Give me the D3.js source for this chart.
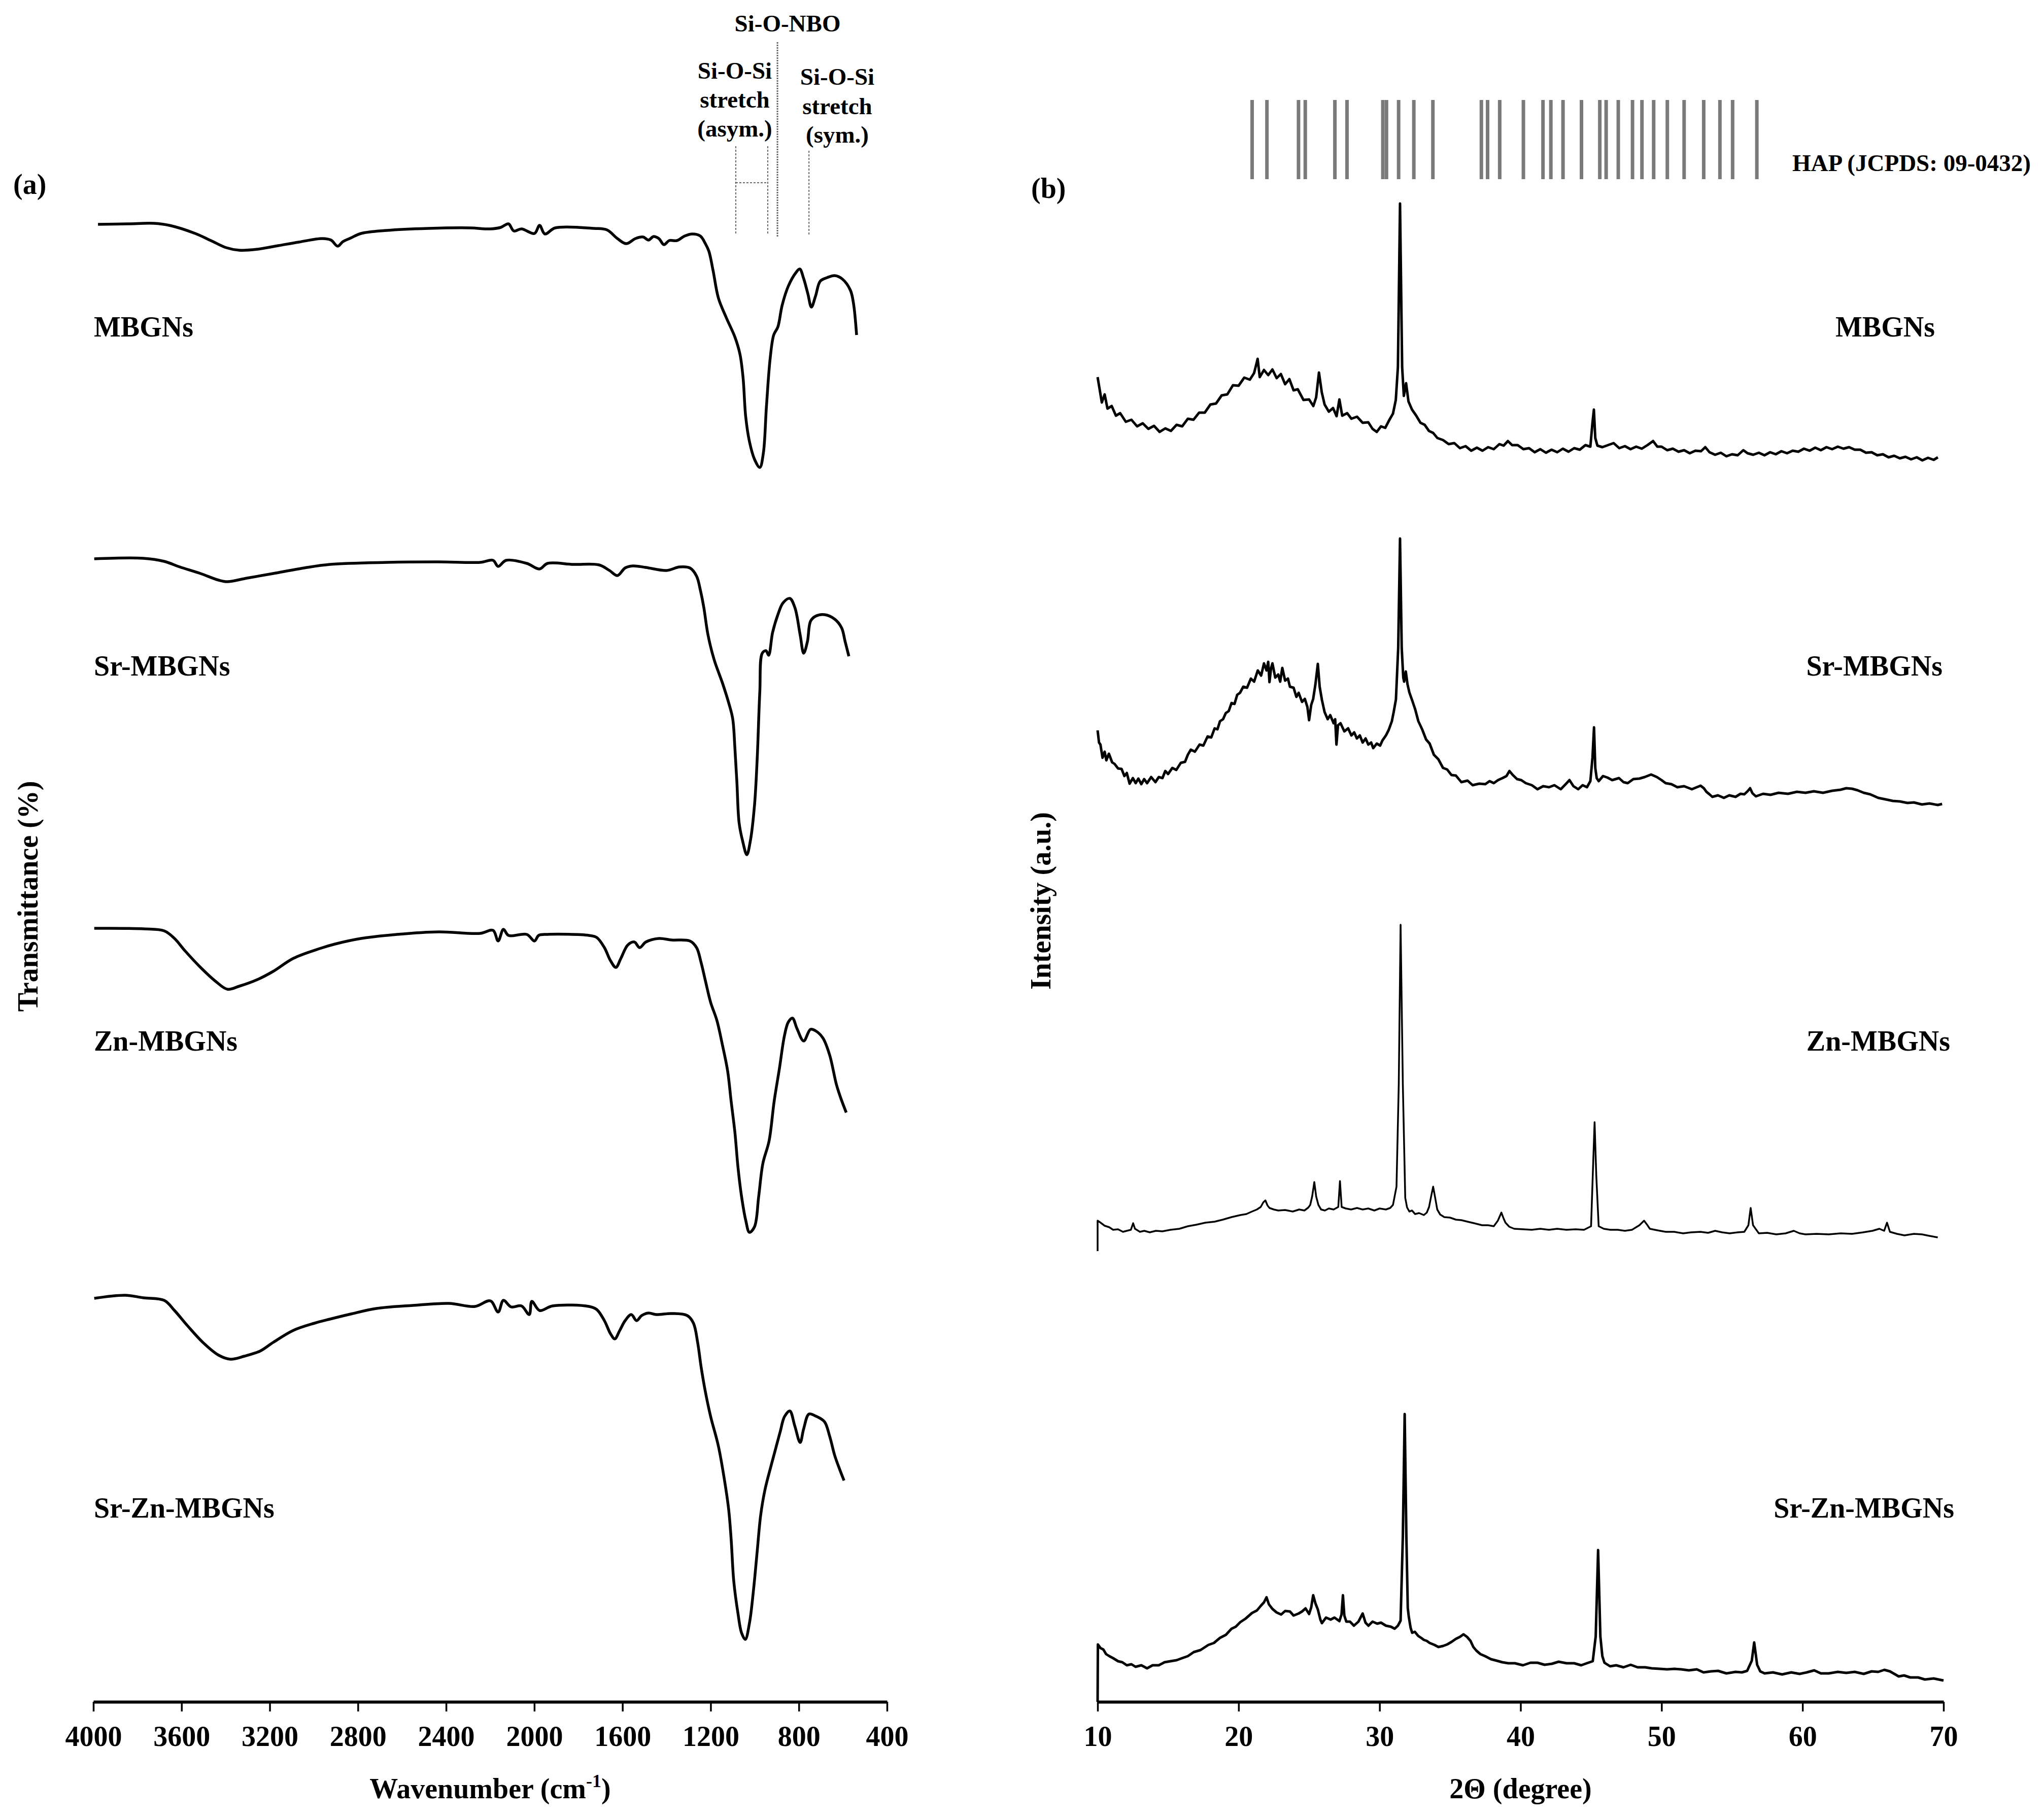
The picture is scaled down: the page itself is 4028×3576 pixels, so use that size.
<!DOCTYPE html>
<html>
<head>
<meta charset="utf-8">
<script src="https://cdn.jsdelivr.net/npm/d3@7"></script>
<style>
  body { margin: 0; background: #fff; }
  text { font-family: "Liberation Serif", "Times New Roman", serif; font-weight: bold; fill: #000; }
</style>
</head>
<body>
<div id="chart"></div>
<script>
// ---------- data ----------
const ftirTicks = [4000, 3600, 3200, 2800, 2400, 2000, 1600, 1200, 800, 400];
const xrdTicks = [10, 20, 30, 40, 50, 60, 70];
const samples = ["MBGNs", "Sr-MBGNs", "Zn-MBGNs", "Sr-Zn-MBGNs"];

// FTIR: [wavenumber, transmittance (a.u., offset)]
const ftirMBGNs = [[3979,291.1],[3843,291.2],[3726,291.3],[3655,290.9],[3538,289.3],[3467,287.9],[3397,286.5],[3338,286.0],[3256,286.2],[3162,286.9],[3068,287.6],[2962,288.3],[2922,288.0],[2892,286.8],[2868,287.7],[2833,288.4],[2786,289.3],[2669,289.9],[2481,290.3],[2293,290.4],[2199,290.2],[2152,290.5],[2117,291.2],[2093,289.8],[2058,290.2],[1999,289.3],[1976,290.9],[1952,289.2],[1905,290.4],[1729,290.3],[1670,290.0],[1623,288.3],[1583,287.3],[1541,288.3],[1506,288.6],[1482,288.0],[1459,288.7],[1435,288.3],[1412,287.1],[1388,287.9],[1353,287.9],[1318,288.8],[1283,289.2],[1247,288.8],[1224,287.3],[1208,285.8],[1189,282.0],[1165,276.6],[1130,272.8],[1090,268.9],[1067,265.5],[1053,260.9],[1041,253.2],[1024,248.3],[1001,244.8],[977,243.2],[961,246.0],[947,255.2],[930,264.7],[914,269.3],[895,270.9],[876,275.1],[848,278.9],[813,281.6],[796,282.3],[778,280.4],[759,277.4],[743,274.8],[724,277.0],[703,279.9],[672,280.6],[637,281.0],[602,280.3],[566,278.1],[552,275.5],[538,269.3]];
const ftirSr = [[3996,225.2],[3773,225.3],[3679,224.7],[3608,223.6],[3514,222.3],[3432,221.0],[3392,220.7],[3303,221.4],[3185,222.3],[3044,223.4],[2927,224.1],[2669,224.5],[2434,224.6],[2246,224.5],[2187,224.9],[2164,223.7],[2128,224.9],[2034,224.3],[1976,223.2],[1940,224.3],[1823,224.1],[1706,224.0],[1659,222.9],[1623,221.9],[1588,223.4],[1553,223.8],[1494,223.5],[1400,222.9],[1341,223.6],[1294,223.4],[1264,221.8],[1247,219.1],[1231,215.6],[1212,210.2],[1184,205.3],[1147,200.8],[1118,196.8],[1100,193.7],[1090,187.9],[1081,181.2],[1071,173.2],[1055,169.6],[1036,166.9],[1020,169.6],[1001,176.7],[989,185.7],[977,199.0],[966,206.6],[949,207.1],[937,206.2],[919,210.7],[895,214.2],[872,216.5],[841,217.4],[818,215.6],[794,210.2],[778,206.6],[761,208.9],[747,212.9],[724,213.9],[684,214.2],[637,213.3],[606,211.6],[590,208.9],[573,206.0]];
const ftirZn = [[3996,152.4],[3773,152.3],[3679,151.9],[3632,150.4],[3585,148.0],[3514,144.7],[3444,141.9],[3392,140.4],[3338,141.0],[3256,142.3],[3185,143.9],[3092,146.5],[2974,148.4],[2904,149.3],[2786,150.4],[2622,151.2],[2434,151.7],[2246,151.4],[2187,152.0],[2164,149.9],[2140,152.2],[2117,151.0],[2034,151.2],[1999,149.9],[1980,151.0],[1940,151.2],[1752,151.0],[1717,150.6],[1682,148.6],[1654,146.0],[1630,144.7],[1607,146.5],[1576,149.1],[1546,149.7],[1522,148.6],[1494,149.7],[1435,150.4],[1377,150.1],[1294,149.9],[1264,148.6],[1243,145.6],[1224,142.1],[1200,137.8],[1172,134.3],[1147,129.5],[1123,124.3],[1107,118.3],[1090,112.2],[1076,105.3],[1060,99.6],[1041,94.9],[1024,92.5],[1001,93.6],[982,99.6],[963,106.1],[935,110.5],[912,118.3],[888,124.8],[865,131.3],[848,133.9],[829,134.7],[808,132.6],[778,130.2],[747,132.5],[724,132.2],[691,130.8],[660,127.4],[630,121.7],[611,119.1],[585,116.1]];
const ftirSrZn = [[3996,79.5],[3855,80.1],[3773,79.6],[3679,79.1],[3632,77.1],[3573,74.1],[3503,70.8],[3432,68.3],[3378,67.5],[3315,68.1],[3244,69.1],[3185,70.8],[3092,73.2],[2997,74.6],[2927,75.4],[2833,76.4],[2716,77.5],[2551,78.1],[2387,78.5],[2269,77.9],[2199,79.0],[2164,76.8],[2140,79.1],[2105,77.8],[2058,78.0],[2023,76.3],[2011,78.9],[1976,77.1],[1917,78.0],[1752,77.9],[1717,77.3],[1682,75.1],[1654,72.5],[1635,71.5],[1612,73.2],[1588,75.1],[1560,76.3],[1536,75.1],[1513,76.1],[1482,76.6],[1447,76.3],[1377,76.5],[1306,76.1],[1278,74.6],[1259,70.8],[1243,65.9],[1224,61.1],[1200,56.2],[1165,50.4],[1137,43.6],[1118,37.8],[1107,32.0],[1095,23.7],[1076,17.4],[1060,13.6],[1043,12.3],[1024,15.5],[1005,22.3],[989,29.6],[973,36.8],[954,41.7],[926,46.5],[902,50.4],[884,53.3],[865,56.2],[841,57.3],[818,54.3],[794,51.1],[778,53.8],[754,56.7],[724,56.3],[684,55.2],[660,52.3],[637,48.5],[613,45.6],[595,43.6]];

// XRD: [2theta, intensity (a.u., offset)]
const xrdMBGNs = [[10.0,261.0],[10.15,258.5],[10.3,256.0],[10.5,257.6],[10.7,254.8],[11.0,255.3],[11.3,253.4],[11.6,253.9],[12.0,252.2],[12.4,252.6],[12.8,251.3],[13.2,251.9],[13.6,250.8],[14.0,251.4],[14.4,250.2],[14.8,250.9],[15.2,250.4],[15.6,251.6],[16.0,251.3],[16.4,252.8],[16.8,252.6],[17.2,254.0],[17.6,254.0],[18.0,255.6],[18.4,255.8],[18.8,257.4],[19.2,257.6],[19.6,259.4],[20.0,259.3],[20.4,260.9],[20.8,260.5],[21.1,261.8],[21.35,264.6],[21.5,261.0],[21.8,262.4],[22.1,261.4],[22.4,262.5],[22.7,260.8],[23.0,261.6],[23.3,259.6],[23.6,260.6],[23.9,258.4],[24.2,258.6],[24.6,256.5],[25.0,256.6],[25.3,255.3],[25.5,257.0],[25.7,261.9],[25.9,258.0],[26.1,255.6],[26.4,254.2],[26.7,254.9],[26.95,253.3],[27.15,256.6],[27.35,253.4],[27.7,253.9],[28.0,252.8],[28.4,253.2],[28.8,252.0],[29.2,252.1],[29.5,250.8],[29.8,250.2],[30.1,251.3],[30.4,251.0],[30.7,252.6],[30.95,253.8],[31.15,256.5],[31.3,263.0],[31.45,295.2],[31.6,263.0],[31.72,257.3],[31.88,259.8],[32.05,256.2],[32.3,254.6],[32.6,253.4],[32.9,252.0],[33.2,251.6],[33.5,250.4],[33.8,250.0],[34.1,249.0],[34.5,248.6],[34.9,247.8],[35.3,248.0],[35.7,247.0],[36.1,247.4],[36.5,246.5],[36.9,247.1],[37.3,246.5],[37.7,247.2],[38.1,246.8],[38.5,247.8],[38.8,247.5],[39.1,248.4],[39.4,247.6],[39.8,247.6],[40.2,246.8],[40.6,247.0],[41.0,246.2],[41.4,246.8],[41.8,246.1],[42.2,246.7],[42.6,246.2],[43.0,246.9],[43.4,246.3],[43.8,247.0],[44.2,246.7],[44.6,247.6],[44.95,247.3],[45.1,252.0],[45.2,254.6],[45.3,249.0],[45.45,247.5],[45.8,247.2],[46.2,247.6],[46.6,248.0],[47.0,247.0],[47.4,247.4],[47.8,246.8],[48.2,247.3],[48.6,246.9],[49.0,247.6],[49.4,248.4],[49.7,247.3],[50.0,247.3],[50.4,246.6],[50.8,246.9],[51.2,246.3],[51.6,246.6],[52.0,246.0],[52.4,246.5],[52.8,246.4],[53.1,247.2],[53.4,246.2],[53.8,245.7],[54.2,246.1],[54.6,245.4],[55.0,245.8],[55.4,245.6],[55.8,246.6],[56.1,246.0],[56.5,245.7],[56.9,246.1],[57.3,245.6],[57.7,246.2],[58.1,245.8],[58.5,246.4],[58.9,246.0],[59.3,246.5],[59.7,246.3],[60.1,246.9],[60.5,246.5],[60.9,247.1],[61.3,246.6],[61.7,247.2],[62.1,246.8],[62.5,247.3],[62.9,246.9],[63.3,247.2],[63.7,246.7],[64.1,246.7],[64.5,246.1],[64.9,246.2],[65.3,245.6],[65.7,245.8],[66.1,245.2],[66.5,245.5],[66.9,245.0],[67.3,245.3],[67.7,244.8],[68.1,245.2],[68.5,244.6],[68.9,245.1],[69.3,244.7],[69.6,245.2]];
const xrdSr = [[10.0,191.4],[10.1,189.0],[10.2,188.6],[10.35,186.0],[10.5,187.2],[10.62,185.5],[10.8,186.8],[11.03,185.1],[11.2,184.8],[11.45,183.9],[11.7,183.8],[11.9,182.4],[12.07,183.0],[12.27,180.9],[12.5,182.0],[12.7,181.0],[12.89,181.9],[13.1,180.8],[13.3,181.8],[13.51,181.0],[13.8,182.2],[14.1,181.2],[14.34,182.2],[14.6,182.0],[14.8,183.4],[15.0,182.8],[15.3,184.0],[15.58,183.6],[15.9,185.0],[16.2,185.2],[16.4,186.6],[16.61,187.6],[16.9,187.2],[17.23,188.6],[17.5,188.4],[17.8,190.2],[18.06,190.0],[18.3,191.8],[18.5,191.6],[18.68,193.2],[18.9,193.6],[19.09,194.8],[19.3,195.2],[19.5,196.8],[19.71,196.6],[19.9,198.4],[20.1,198.8],[20.33,200.0],[20.6,199.8],[20.87,201.6],[21.1,201.0],[21.36,203.2],[21.6,202.2],[21.8,204.6],[21.98,203.2],[22.1,204.9],[22.19,200.9],[22.3,203.6],[22.4,204.6],[22.6,201.8],[22.81,202.4],[22.95,201.0],[23.1,203.7],[23.3,201.2],[23.5,201.6],[23.64,200.0],[23.9,199.8],[24.1,198.0],[24.26,198.8],[24.5,197.0],[24.7,197.6],[24.88,196.0],[25.0,193.4],[25.15,196.4],[25.29,197.6],[25.45,200.5],[25.62,204.5],[25.75,200.0],[25.91,197.4],[26.1,195.0],[26.32,193.6],[26.5,194.4],[26.74,192.8],[26.85,193.6],[26.94,188.6],[27.05,192.4],[27.23,192.8],[27.5,191.2],[27.77,191.8],[28.0,190.4],[28.2,191.0],[28.39,189.8],[28.6,190.4],[28.8,189.0],[29.01,189.8],[29.2,188.6],[29.4,189.0],[29.55,187.9],[29.8,188.8],[30.04,188.4],[30.2,189.4],[30.45,190.4],[30.65,191.5],[30.87,193.2],[31.0,195.0],[31.16,197.5],[31.32,207.6],[31.45,229.2],[31.57,207.6],[31.68,201.8],[31.74,201.0],[31.86,203.0],[31.98,200.5],[32.11,198.9],[32.3,197.4],[32.52,195.6],[32.75,193.2],[33.02,191.6],[33.3,189.6],[33.55,188.8],[33.85,186.6],[34.17,185.7],[34.5,184.0],[34.79,183.7],[35.1,182.6],[35.41,182.5],[35.8,181.2],[36.24,181.5],[36.6,180.6],[37.07,180.9],[37.5,180.8],[37.8,181.4],[38.1,181.0],[38.4,181.6],[38.72,182.0],[39.0,182.4],[39.21,183.4],[39.45,182.6],[39.75,181.8],[40.05,181.6],[40.37,181.0],[40.8,180.6],[41.2,179.8],[41.6,180.4],[42.02,180.2],[42.4,180.6],[42.85,179.8],[43.2,180.8],[43.47,181.6],[43.75,180.4],[44.09,179.8],[44.4,180.6],[44.71,180.2],[44.95,181.4],[45.1,186.0],[45.21,192.0],[45.3,184.0],[45.4,182.0],[45.54,181.4],[45.85,182.4],[46.16,182.1],[46.5,181.6],[46.98,182.0],[47.3,181.2],[47.6,181.0],[48.0,181.8],[48.43,181.9],[48.8,182.2],[49.26,182.7],[49.67,182.2],[50.0,181.6],[50.29,181.0],[50.7,180.8],[51.12,180.2],[51.6,180.4],[52.15,179.8],[52.5,180.2],[52.77,180.5],[53.0,180.0],[53.18,179.3],[53.4,178.8],[53.6,178.3],[54.0,178.6],[54.42,178.1],[54.8,178.6],[55.25,178.3],[55.6,178.9],[55.87,178.8],[56.1,179.4],[56.28,180.0],[56.45,179.0],[56.69,178.4],[57.2,178.9],[57.73,178.7],[58.3,179.1],[58.97,178.9],[59.6,179.3],[60.21,179.1],[60.8,179.4],[61.45,179.1],[62.1,179.5],[62.69,179.7],[63.1,180.0],[63.51,179.9],[63.9,179.6],[64.34,179.1],[64.8,178.8],[65.37,178.1],[65.9,177.8],[66.4,177.5],[66.9,177.4],[67.44,177.1],[67.9,177.2],[68.47,176.8],[69.0,177.0],[69.59,176.7],[69.9,176.9]];
const xrdZn = [[10.0,88.8],[10.0,94.8],[10.21,94.4],[10.5,93.8],[10.83,93.5],[11.1,93.0],[11.45,93.1],[11.8,92.6],[12.07,92.8],[12.36,93.0],[12.52,94.3],[12.65,93.2],[12.77,93.0],[13.0,92.6],[13.31,92.8],[13.7,92.5],[14.13,92.8],[14.6,92.7],[15.17,93.0],[15.8,93.2],[16.4,93.7],[17.0,94.0],[17.64,94.4],[18.3,94.6],[18.88,95.0],[19.5,95.5],[20.12,95.9],[20.55,96.1],[20.95,96.6],[21.3,97.0],[21.57,97.5],[21.75,98.4],[21.9,98.8],[22.05,97.8],[22.19,97.3],[22.5,97.0],[22.81,96.8],[23.3,96.9],[23.84,96.6],[24.3,97.0],[24.67,96.8],[24.95,97.4],[25.08,97.9],[25.22,99.6],[25.37,102.4],[25.5,99.6],[25.66,97.9],[25.85,97.0],[26.12,96.8],[26.4,97.2],[26.74,97.0],[27.07,97.5],[27.19,102.6],[27.31,97.5],[27.6,97.2],[27.98,97.0],[28.4,97.3],[28.8,97.0],[29.2,97.2],[29.63,96.8],[30.0,97.2],[30.45,97.0],[30.75,97.3],[30.95,97.9],[31.2,101.5],[31.36,121.6],[31.49,153.1],[31.65,121.6],[31.82,99.3],[31.95,97.4],[32.11,96.6],[32.3,96.8],[32.52,96.1],[32.8,96.3],[33.14,95.9],[33.35,96.4],[33.51,97.5],[33.65,99.5],[33.8,101.5],[33.95,99.2],[34.09,97.0],[34.3,96.0],[34.59,95.5],[35.0,95.4],[35.41,95.0],[35.8,94.9],[36.24,94.6],[36.7,94.3],[37.27,93.9],[37.7,93.9],[38.1,93.7],[38.39,94.8],[38.64,96.4],[38.8,95.2],[38.93,94.4],[39.2,93.6],[39.55,93.2],[40.2,93.1],[40.79,93.0],[41.4,93.2],[42.02,93.0],[42.6,93.2],[43.26,93.0],[43.9,93.1],[44.5,93.0],[45.0,93.7],[45.12,103.7],[45.25,114.2],[45.37,103.7],[45.54,93.7],[45.9,93.2],[46.36,93.0],[46.9,93.0],[47.4,92.8],[47.9,93.0],[48.43,93.9],[48.76,94.8],[49.0,93.9],[49.17,93.2],[49.7,92.9],[50.29,92.6],[50.9,92.6],[51.53,92.3],[52.1,92.5],[52.77,92.6],[53.3,92.4],[53.8,92.8],[54.3,92.5],[54.83,92.3],[55.4,92.5],[55.87,92.6],[56.16,93.9],[56.32,97.3],[56.49,93.9],[56.9,92.3],[57.5,92.4],[58.14,92.1],[58.8,92.3],[59.38,92.8],[59.8,92.3],[60.21,92.1],[61.0,92.2],[61.86,92.1],[62.7,92.3],[63.51,92.2],[64.3,92.5],[64.96,92.8],[65.45,93.2],[65.79,92.8],[65.99,94.4],[66.2,92.6],[66.7,92.2],[67.23,91.9],[67.9,92.2],[68.47,92.1],[69.0,91.8],[69.59,91.5]];
const xrdSrZn = [[10.0,0],[10.02,11.3],[10.2,10.6],[10.41,10.3],[10.6,9.4],[10.83,9.0],[11.1,8.6],[11.45,8.0],[11.75,7.8],[12.07,7.2],[12.4,7.4],[12.69,6.9],[13.1,7.2],[13.51,6.6],[13.9,7.2],[14.34,7.2],[14.75,7.8],[15.17,8.0],[15.6,8.2],[15.99,8.6],[16.4,9.0],[16.82,9.8],[17.3,10.2],[17.85,11.2],[18.25,11.6],[18.68,12.6],[19.1,13.2],[19.5,14.4],[19.8,14.8],[20.12,15.7],[20.5,16.4],[20.95,17.5],[21.3,18.0],[21.57,18.9],[21.8,19.6],[21.98,20.6],[22.15,19.2],[22.4,18.3],[22.7,17.6],[23.02,17.2],[23.3,17.9],[23.64,17.8],[23.9,17.0],[24.26,17.4],[24.5,17.8],[24.75,18.4],[25.0,17.3],[25.15,18.6],[25.29,21.0],[25.45,19.4],[25.62,18.2],[25.8,16.2],[25.91,15.5],[26.2,16.6],[26.53,16.2],[26.8,16.6],[27.15,15.9],[27.3,17.2],[27.4,21.0],[27.5,17.0],[27.64,15.8],[27.9,15.8],[28.18,15.0],[28.5,15.8],[28.8,17.4],[29.0,15.6],[29.21,15.0],[29.5,15.8],[29.83,15.4],[30.1,15.6],[30.45,15.0],[30.8,14.8],[31.07,14.4],[31.3,15.0],[31.49,16.0],[31.65,32.6],[31.78,56.7],[31.9,32.6],[32.0,18.5],[32.07,16.8],[32.2,14.6],[32.31,13.6],[32.5,13.8],[32.73,13.0],[32.95,12.6],[33.14,12.2],[33.35,12.0],[33.55,11.6],[33.9,11.2],[34.17,10.8],[34.5,11.0],[34.79,11.3],[35.1,11.8],[35.41,12.4],[35.7,12.8],[35.95,13.3],[36.2,12.8],[36.45,12.0],[36.65,10.8],[36.86,10.1],[37.15,9.4],[37.48,9.0],[37.9,8.4],[38.31,8.1],[38.7,7.8],[39.13,7.6],[39.6,7.6],[40.17,7.2],[40.7,7.7],[41.2,7.7],[41.7,7.3],[42.23,7.5],[42.7,7.9],[43.26,7.6],[43.8,7.6],[44.3,7.2],[44.7,7.6],[45.12,8.0],[45.33,12.9],[45.5,29.9],[45.66,12.9],[45.8,9.0],[45.95,7.7],[46.35,7.0],[46.78,7.2],[47.3,6.8],[47.81,7.3],[48.3,6.8],[48.84,6.8],[49.3,6.6],[49.88,6.5],[50.4,6.4],[50.91,6.5],[51.4,6.4],[51.94,6.2],[52.5,6.4],[52.98,5.8],[53.5,6.0],[54.01,6.1],[54.6,5.6],[55.25,5.9],[55.7,5.8],[56.07,6.1],[56.4,8.1],[56.57,11.7],[56.78,7.3],[57.0,6.0],[57.31,5.6],[57.9,5.8],[58.55,5.4],[59.2,5.8],[59.79,5.5],[60.3,5.8],[60.83,6.2],[61.3,5.6],[61.86,5.6],[62.5,5.9],[63.1,5.7],[63.7,5.9],[64.34,5.5],[64.9,6.0],[65.37,5.9],[65.8,6.3],[66.2,6.0],[66.82,5.0],[67.2,5.2],[67.64,4.8],[68.2,4.8],[68.68,4.4],[69.3,4.6],[70.0,4.2]];

// HAP reference pattern (JCPDS 09-0432), 2theta of the sticks
const hapSticks = [20.96,22.01,24.25,24.73,26.83,27.69,30.23,30.49,31.35,32.43,33.78,37.22,37.66,38.52,40.20,41.59,42.15,43.01,44.32,45.62,46.07,46.93,47.94,48.61,49.44,50.41,51.60,52.99,54.14,55.04,56.76];

// FTIR band markers (wavenumber)
const asymBand = [1086, 941];
const nboBand = 897;
const symBand = 754;

// ---------- layout ----------
const W = 4028, H = 3576;
const svg = d3.select("#chart").append("svg")
    .attr("width", W)
    .attr("height", H)
    .style("background", "#fff");

const y = d3.scaleLinear().domain([0, 335.3]).range([3353, 0]);
const xF = d3.scaleLinear().domain([4000, 400]).range([184, 1748]);
const xX = d3.scaleLinear().domain([10, 70]).range([2163, 3830]);

function drawAxis(scale, ticks) {
    const g = svg.append("g")
        .attr("transform", `translate(0,${y(0)})`)
        .call(d3.axisBottom(scale).tickValues(ticks).tickSize(19).tickSizeOuter(0).tickPadding(28).tickFormat(d3.format("d")));
    g.select(".domain").attr("stroke", "#000").attr("stroke-width", 6);
    g.selectAll(".tick line").attr("stroke", "#000").attr("stroke-width", 3.5);
    g.selectAll(".tick text")
        .style("font-family", '"Liberation Serif", "Times New Roman", serif')
        .style("font-weight", "bold")
        .style("font-size", "56px")
        .attr("fill", "#000");
    return g;
}
drawAxis(xF, ftirTicks);
drawAxis(xX, xrdTicks);

// curves
const lineF = d3.line().curve(d3.curveCatmullRom.alpha(0.5)).x(d => xF(d[0])).y(d => y(d[1]));
const lineX = d3.line().x(d => xX(d[0])).y(d => y(d[1]));

[ftirMBGNs, ftirSr, ftirZn, ftirSrZn].forEach(s => {
    svg.append("path").datum(s)
        .attr("d", lineF)
        .attr("fill", "none")
        .attr("stroke", "#000")
        .attr("stroke-width", 5.5)
        .attr("stroke-linejoin", "round");
});
[[xrdMBGNs, 5], [xrdSr, 5], [xrdZn, 3.5], [xrdSrZn, 5]].forEach(([s, w]) => {
    svg.append("path").datum(s)
        .attr("d", lineX)
        .attr("fill", "none")
        .attr("stroke", "#000")
        .attr("stroke-width", w)
        .attr("stroke-linejoin", "round");
});

// HAP sticks
svg.append("g").selectAll("line")
    .data(hapSticks)
    .join("line")
    .attr("x1", d => xX(d)).attr("x2", d => xX(d))
    .attr("y1", y(315.6)).attr("y2", y(300.0))
    .attr("stroke", "#7a7a7a")
    .attr("stroke-width", 7);
svg.append("text")
    .attr("x", 3532).attr("y", 337)
    .style("font-size", "47px")
    .text("HAP (JCPDS: 09-0432)");

// band markers in panel (a)
const mark = svg.append("g").attr("stroke", "#666").attr("fill", "none");
asymBand.forEach(wn => {
    mark.append("line")
        .attr("x1", xF(wn)).attr("x2", xF(wn))
        .attr("y1", y(306.5)).attr("y2", y(289.1))
        .attr("stroke-width", 2).attr("stroke-dasharray", "4,3");
});
mark.append("line")
    .attr("x1", xF(asymBand[0])).attr("x2", xF(asymBand[1]))
    .attr("y1", y(299.3)).attr("y2", y(299.3))
    .attr("stroke-width", 2).attr("stroke-dasharray", "4,3");
mark.append("line")
    .attr("x1", xF(nboBand)).attr("x2", xF(nboBand))
    .attr("y1", y(327)).attr("y2", y(288.6))
    .attr("stroke-width", 3).attr("stroke-dasharray", "3,2");
mark.append("line")
    .attr("x1", xF(symBand)).attr("x2", xF(symBand))
    .attr("y1", y(305.6)).attr("y2", y(289.0))
    .attr("stroke-width", 2).attr("stroke-dasharray", "4,3");

function block(cx, baselines, lines) {
    lines.forEach((t, i) => {
        svg.append("text")
            .attr("x", cx).attr("y", baselines[i])
            .attr("text-anchor", "middle")
            .style("font-size", "47px")
            .text(t);
    });
}
block(1552, [62], ["Si-O-NBO"]);
block(1448, [155, 212, 269], ["Si-O-Si", "stretch", "(asym.)"]);
block(1650, [167, 225, 281], ["Si-O-Si", "stretch", "(sym.)"]);

// sample labels
const labelBase = [663, 1331, 2070, 2990];
const rightEnds = [3813, 3828, 3843, 3851];
samples.forEach((s, i) => {
    svg.append("text").attr("x", 185).attr("y", labelBase[i])
        .style("font-size", "56px").text(s);
    svg.append("text").attr("x", rightEnds[i]).attr("y", labelBase[i])
        .attr("text-anchor", "end")
        .style("font-size", "56px").text(s);
});

// panel letters
svg.append("text").attr("x", 26).attr("y", 382).style("font-size", "56px").text("(a)");
svg.append("text").attr("x", 2032).attr("y", 390).style("font-size", "56px").text("(b)");

// axis titles
const tF = svg.append("text").attr("x", xF(2200)).attr("y", 3543)
    .attr("text-anchor", "middle").style("font-size", "56px");
tF.append("tspan").text("Wavenumber (cm");
tF.append("tspan").attr("dy", -22).style("font-size", "36px").text("-1");
tF.append("tspan").attr("dy", 22).text(")");

svg.append("text").attr("x", xX(40)).attr("y", 3543)
    .attr("text-anchor", "middle").style("font-size", "56px")
    .text("2Θ (degree)");

svg.append("text")
    .attr("transform", "translate(74,1766) rotate(-90)")
    .attr("text-anchor", "middle").style("font-size", "56px")
    .text("Transmittance (%)");
svg.append("text")
    .attr("transform", "translate(2070,1775) rotate(-90)")
    .attr("text-anchor", "middle").style("font-size", "56px")
    .text("Intensity (a.u.)");
</script>
</body>
</html>
